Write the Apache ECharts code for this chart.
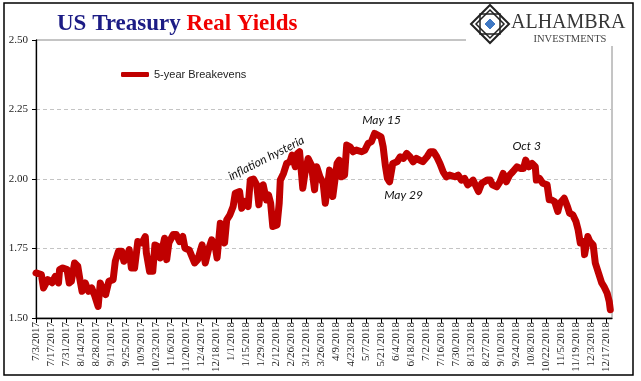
<!DOCTYPE html>
<html>
<head>
<meta charset="utf-8">
<script src="https://cdn.jsdelivr.net/npm/echarts@6/dist/echarts.min.js"></script>
<style>
html,body{margin:0;padding:0;background:#fff;}
#chart{width:641px;height:381px;}
</style>
</head>
<body>
<div id="chart"></div>
<script>
// Day offsets from 7/3/2017
var dayIndex = [0,5,7,11,15,18,21,22,25,29,31,33,36,39,41,43,46,49,52,55,58,60,63,65,68,72,74,77,80,82,85,87,89,92,95,99,102,103,106,109,111,114,116,118,120,122,124,128,131,134,137,139,143,148,151,155,158,161,164,167,169,172,174,176,178,181,184,186,190,192,195,198,200,203,206,208,210,212,215,217,219,221,225,227,228,231,234,237,239,242,244,246,249,251,254,257,260,262,265,268,270,271,274,277,281,283,285,288,290,293,296,299,304,307,310,313,316,319,322,324,326,328,330,333,337,340,343,346,349,352,355,358,361,365,368,371,374,377,380,383,386,391,394,397,400,403,405,408,410,413,416,421,424,426,430,433,436,439,442,445,449,452,455,457,460,463,466,467,470,473,477,479,481,484,487,489,493,496,498,501,504,506,508,511,512,515,517,520,522,525,528,530,533,535,536];
var breakevens = [1.662,1.656,1.608,1.638,1.627,1.650,1.626,1.674,1.680,1.674,1.626,1.632,1.698,1.686,1.638,1.596,1.626,1.596,1.608,1.578,1.542,1.626,1.596,1.584,1.632,1.638,1.704,1.740,1.740,1.704,1.722,1.746,1.680,1.680,1.775,1.770,1.793,1.734,1.668,1.668,1.763,1.757,1.716,1.751,1.787,1.710,1.770,1.800,1.800,1.775,1.793,1.751,1.745,1.698,1.710,1.763,1.698,1.746,1.781,1.763,1.716,1.841,1.829,1.770,1.853,1.871,1.901,1.949,1.955,1.895,1.919,1.901,1.996,2.000,1.979,1.907,1.972,1.979,1.925,1.943,1.913,1.829,1.835,1.913,1.996,2.020,2.056,2.062,2.086,2.044,2.092,2.098,1.967,2.020,2.074,2.050,1.961,2.044,2.008,1.985,1.913,1.907,2.032,1.937,2.056,2.068,2.008,2.014,2.122,2.116,2.098,2.104,2.098,2.104,2.128,2.134,2.164,2.158,2.152,2.116,2.050,2.002,1.990,2.056,2.062,2.080,2.074,2.092,2.080,2.062,2.074,2.068,2.062,2.080,2.098,2.098,2.080,2.056,2.026,2.008,2.014,2.008,2.014,1.996,2.002,1.979,1.985,1.996,1.979,1.955,1.985,1.996,1.996,1.979,1.972,1.990,2.020,1.990,2.014,2.026,2.044,2.038,2.038,2.068,2.044,2.056,2.044,1.996,2.002,1.985,1.979,1.925,1.925,1.919,1.883,1.913,1.931,1.901,1.877,1.871,1.847,1.817,1.770,1.775,1.728,1.793,1.775,1.763,1.698,1.662,1.626,1.614,1.590,1.560,1.530];
var tickLabels = ['7/3/2017','7/17/2017','7/31/2017','8/14/2017','8/28/2017','9/11/2017','9/25/2017','10/9/2017','10/23/2017','11/6/2017','11/20/2017','12/4/2017','12/18/2017','1/1/2018','1/15/2018','1/29/2018','2/12/2018','2/26/2018','3/12/2018','3/26/2018','4/9/2018','4/23/2018','5/7/2018','5/21/2018','6/4/2018','6/18/2018','7/2/2018','7/16/2018','7/30/2018','8/13/2018','8/27/2018','9/10/2018','9/24/2018','10/8/2018','10/22/2018','11/5/2018','11/19/2018','12/3/2018','12/17/2018'];
var tickDays = tickLabels.map(function(_, i){ return i * 14; });
var annotations = [
  {text:'May 15', day:316, value:2.164, offset:[7,-13], rotate:0},
  {text:'May 29', day:330, value:1.990, offset:[14,13], rotate:0},
  {text:'Oct 3', day:457, value:2.068, offset:[1,-14], rotate:0},
  {text:'inflation hysteria', day:215, value:2.075, offset:[0,0], rotate:27}
];

var chart = echarts.init(document.getElementById('chart'), null, {renderer:'canvas'});
var seriesData = dayIndex.map(function(d, i){ return [d, breakevens[i]]; });

var option = {
  animation: false,
  backgroundColor: '#fff',
  title: {
    left: 52, top: 8,
    text: '{a|US Treasury }{b|Real Yields}',
    textStyle: {
      rich: {
        a: {fontFamily:'Liberation Serif', fontSize:23, color:'#1c1c85'},
        b: {fontFamily:'Liberation Serif', fontSize:23, fontWeight:'bold', color:'#f00000'}
      }
    }
  },
  legend: {
    left: 116, top: 64,
    icon: 'roundRect', itemWidth: 28, itemHeight: 5,
    textStyle: {fontFamily:'Liberation Sans', fontSize:11, color:'#222'},
    data: ['5-year Breakevens']
  },
  grid: {
    left: 36, right: 29, top: 40, bottom: 63,
    show: true, borderColor: '#8a8a8a', borderWidth: 1
  },
  xAxis: {
    type: 'value', min: 0, max: 537.6,
    axisLine: {show:true, lineStyle:{color:'#000', width:1.3}},
    axisTick: {show:true, length:5, lineStyle:{color:'#000'}, customValues: tickDays},
    axisLabel: {
      rotate: 90, margin: 4, customValues: tickDays,
      fontFamily: 'Liberation Serif', fontSize: 11, color: '#222',
      formatter: function(v){ var i = Math.round(v/14); return tickLabels[i] || ''; }
    },
    splitLine: {show:false}
  },
  yAxis: {
    type: 'value', min: 1.5, max: 2.5, interval: 0.25,
    axisLine: {show:true, lineStyle:{color:'#000', width:1.3}},
    axisTick: {show:true, inside:false, length:4, lineStyle:{color:'#000'}},
    axisLabel: {
      margin: 8, fontFamily:'Liberation Serif', fontSize:11, color:'#222',
      formatter: function(v){ return v.toFixed(2); }
    },
    splitLine: {show:true, lineStyle:{color:'#c4c4c4', type:[4,3], width:1}}
  },
  series: [{
    name: '5-year Breakevens',
    type: 'line',
    data: seriesData,
    showSymbol: false,
    symbol: 'none',
    lineStyle: {color:'#c00000', width:7, cap:'round', join:'round'},
    itemStyle: {color:'#c00000'},
    markPoint: {
      symbol: 'circle', symbolSize: 0, silent: true,
      data: annotations.map(function(a){
        return {
          coord: [a.day, a.value],
          label: {
            show: true, position: 'inside', formatter: a.text,
            offset: a.offset, rotate: a.rotate,
            fontFamily: 'Lato', fontStyle: 'italic', fontSize: 12, color: '#111'
          }
        };
      })
    }
  }],
  graphic: [
    {type:'rect', z:100, shape:{x:466, y:4, width:166, height:42}, style:{fill:'#fff'}},
    {type:'polygon', z:101, shape:{points:[[490,5],[509,24],[490,43],[471,24]]}, style:{fill:'none', stroke:'#222', lineWidth:2}},
    {type:'polygon', z:101, shape:{points:[[490,10],[504,24],[490,38],[476,24]]}, style:{fill:'none', stroke:'#222', lineWidth:1.5}},
    {type:'rect', z:101, shape:{x:480, y:14, width:20, height:20}, style:{fill:'none', stroke:'#222', lineWidth:1.5}},
    {type:'polygon', z:102, shape:{points:[[490,18],[496,24],[490,30],[484,24]]}, style:{fill:'#3f78c4', stroke:'#fff', lineWidth:1}},
    {type:'text', z:101, style:{x:511, y:33, text:'ALHAMBRA', font:'20px "Liberation Serif"', fill:'#363636', verticalAlign:'bottom', align:'left'}},
    {type:'text', z:101, style:{x:570, y:45, text:'INVESTMENTS', font:'10.5px "Liberation Serif"', fill:'#444', verticalAlign:'bottom', align:'center'}},
    {type:'rect', z:110, shape:{x:4, y:3, width:629, height:372}, style:{fill:'none', stroke:'#000', lineWidth:1.5}}
  ]
};
chart.setOption(option);
</script>
</body>
</html>
